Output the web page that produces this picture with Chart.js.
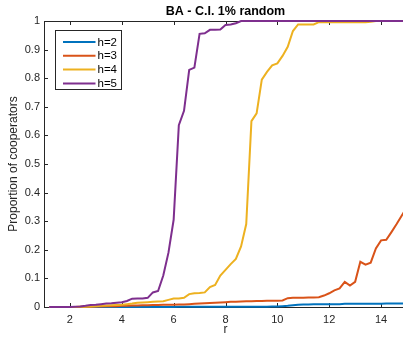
<!DOCTYPE html>
<html>
<head>
<meta charset="utf-8">
<script src="https://cdn.jsdelivr.net/npm/chart.js@4.4.1/dist/chart.umd.min.js"></script>
<style>
    html, body { margin: 0; padding: 0; background: #fff; overflow: hidden; }
    #contenedor { width: 410px; height: 342px; }
</style>
</head>
<body>
<div id="contenedor"><canvas id="grafica"></canvas></div>
<script>
// 🔹 Datos: proporción de cooperadores vs r
const titulo = 'BA - C.I. 1% random';
const etiquetas = ['h=2', 'h=3', 'h=4', 'h=5'];
const colores = ['#0072BD', '#D95319', '#EDB120', '#7E2F8E'];

const valoresR = [1.2, 1.4, 1.6, 1.8, 2.0, 2.2, 2.4, 2.6, 2.8, 3.0,
    3.2, 3.4, 3.6, 3.8, 4.0, 4.2, 4.4, 4.6, 4.8, 5.0,
    5.2, 5.4, 5.6, 5.8, 6.0, 6.2, 6.4, 6.6, 6.8, 7.0,
    7.2, 7.4, 7.6, 7.8, 8.0, 8.2, 8.4, 8.6, 8.8, 9.0,
    9.2, 9.4, 9.6, 9.8, 10.0, 10.2, 10.4, 10.6, 10.8, 11.0,
    11.2, 11.4, 11.6, 11.8, 12.0, 12.2, 12.4, 12.6, 12.8, 13.0,
    13.2, 13.4, 13.6, 13.8, 14.0, 14.2, 14.4, 14.6, 14.8, 15.0];

const h2 = [0, 0, 0, 0, 0, 0, 0, 0, 0, 0,
    0, 0, 0, 0, 0, 0, 0, 0, 0, 0,
    0, 0, 0, 0, 0, 0.001, 0.001, 0.001, 0.001, 0.001,
    0.001, 0.001, 0.001, 0.001, 0.001, 0.001, 0.001, 0.001, 0.001, 0.001,
    0.001, 0.001, 0.001, 0.002, 0.002, 0.003, 0.004, 0.006, 0.008, 0.009,
    0.009, 0.01, 0.01, 0.01, 0.01, 0.01, 0.01, 0.011, 0.011, 0.011,
    0.011, 0.011, 0.011, 0.011, 0.011, 0.012, 0.012, 0.012, 0.012, 0.012];

const h3 = [0, 0, 0, 0, 0, 0, 0.001, 0.001, 0.001, 0.002,
    0.002, 0.003, 0.003, 0.003, 0.004, 0.004, 0.005, 0.005, 0.006, 0.006,
    0.007, 0.007, 0.008, 0.008, 0.008, 0.009, 0.009, 0.01, 0.011, 0.012,
    0.013, 0.014, 0.015, 0.016, 0.017, 0.018, 0.018, 0.019, 0.02, 0.02,
    0.021, 0.021, 0.022, 0.022, 0.022, 0.023, 0.031, 0.032, 0.032, 0.032,
    0.033, 0.033, 0.034, 0.04, 0.048, 0.058, 0.065, 0.088, 0.075, 0.088,
    0.158, 0.148, 0.155, 0.205, 0.233, 0.235, 0.262, 0.29, 0.32, 0.35];

const h4 = [0, 0, 0, 0, 0, 0, 0.001, 0.001, 0.002, 0.003,
    0.004, 0.005, 0.006, 0.007, 0.008, 0.01, 0.012, 0.015, 0.016, 0.017,
    0.018, 0.019, 0.02, 0.025, 0.03, 0.03, 0.032, 0.045, 0.048, 0.049,
    0.051, 0.07, 0.077, 0.11, 0.13, 0.15, 0.168, 0.212, 0.29, 0.65,
    0.677, 0.795, 0.822, 0.845, 0.852, 0.878, 0.91, 0.965, 0.988, 0.988,
    0.988, 0.988, 0.996, 0.996, 0.996, 0.996, 0.996, 0.996, 0.996, 0.996,
    0.996, 0.996, 0.997, 1, 1, 1, 1, 1, 1, 1];

const h5 = [0, 0, 0, 0, 0, 0.001, 0.002, 0.004, 0.007, 0.008,
    0.01, 0.012, 0.013, 0.015, 0.017, 0.021, 0.029, 0.03, 0.03, 0.032,
    0.051, 0.056, 0.11, 0.19, 0.305, 0.636, 0.686, 0.829, 0.837, 0.955,
    0.957, 0.969, 0.969, 0.97, 0.986, 0.988, 0.992, 1, 1, 1,
    1, 1, 1, 1, 1, 1, 1, 1, 1, 1,
    1, 1, 1, 1, 1, 1, 1, 1, 1, 1,
    1, 1, 1, 1, 1, 1, 1, 1, 1, 1];

const series = [h2, h3, h4, h5];
const ticksX = [2, 4, 6, 8, 10, 12, 14];
const ticksY = [0, 0.1, 0.2, 0.3, 0.4, 0.5, 0.6, 0.7, 0.8, 0.9, 1];
const etiquetasY = ['0', '0.1', '0.2', '0.3', '0.4', '0.5', '0.6', '0.7', '0.8', '0.9', '1'];

const fuente = "'Liberation Sans', Arial, Helvetica, sans-serif";
const colorEje = '#262626';

// 🔸 Marco con ticks hacia adentro (estilo MATLAB)
const marco = {
    id: 'marco',
    beforeDatasetsDraw(chart) {
        const { ctx, chartArea: a, scales: { x, y } } = chart;
        ctx.save();
        ctx.strokeStyle = colorEje;
        ctx.lineWidth = 1;
        ctx.strokeRect(a.left + 0.5, a.top + 0.5, a.right - a.left, a.bottom - a.top);
        ctx.beginPath();
        x.ticks.forEach(t => {
            const px = Math.round(x.getPixelForValue(t.value)) + 0.5;
            ctx.moveTo(px, a.bottom);
            ctx.lineTo(px, a.bottom - 4);
            ctx.moveTo(px, a.top);
            ctx.lineTo(px, a.top + 4);
        });
        y.ticks.forEach(t => {
            const py = Math.round(y.getPixelForValue(t.value)) + 0.5;
            ctx.moveTo(a.left, py);
            ctx.lineTo(a.left + 4, py);
            ctx.moveTo(a.right, py);
            ctx.lineTo(a.right - 4, py);
        });
        ctx.stroke();
        ctx.restore();
    }
};

// 🔸 Leyenda dentro del área, arriba a la izquierda
const leyenda = {
    id: 'leyenda',
    afterDatasetsDraw(chart) {
        const { ctx, chartArea: a } = chart;
        const x0 = a.left + 11.5;
        const y0 = a.top + 9.5;
        ctx.save();
        ctx.fillStyle = '#fff';
        ctx.fillRect(x0, y0, 66, 59);
        ctx.strokeStyle = colorEje;
        ctx.lineWidth = 1;
        ctx.strokeRect(x0, y0, 66, 59);
        ctx.font = '11.5px ' + fuente;
        ctx.textBaseline = 'middle';
        ctx.textAlign = 'left';
        chart.data.datasets.forEach((ds, i) => {
            const yy = y0 + 11.5 + i * 13.8;
            ctx.strokeStyle = ds.borderColor;
            ctx.lineWidth = 2;
            ctx.beginPath();
            ctx.moveTo(x0 + 7.5, yy);
            ctx.lineTo(x0 + 40, yy);
            ctx.stroke();
            ctx.fillStyle = '#000';
            ctx.fillText(ds.label, x0 + 42, yy + 0.5);
        });
        ctx.restore();
    }
};

const ctx = document.getElementById('grafica').getContext('2d');

new Chart(ctx, {
    type: 'line',
    data: {
        datasets: series.map((vals, i) => ({
            label: etiquetas[i],
            data: vals.map((v, k) => ({ x: valoresR[k], y: v })),
            borderColor: colores[i],
            backgroundColor: colores[i],
            borderWidth: 2,
            pointRadius: 0,
            tension: 0,
            clip: 4,
            order: series.length - i
        }))
    },
    options: {
        animation: false,
        responsive: true,
        maintainAspectRatio: false,
        layout: { padding: { left: 0, right: 3, top: 0, bottom: 0 } },
        plugins: {
            legend: { display: false },
            tooltip: { enabled: false },
            title: {
                display: true,
                text: titulo,
                fullSize: false,
                color: '#000',
                font: { family: fuente, size: 12.5, weight: 'bold' },
                padding: { top: 4, bottom: 2 }
            }
        },
        scales: {
            x: {
                type: 'linear',
                min: 1,
                max: 15,
                grid: { display: false, drawTicks: false },
                border: { display: false },
                afterBuildTicks: s => { s.ticks = ticksX.map(v => ({ value: v })); },
                afterFit: s => { s.height = 35; },
                ticks: { color: colorEje, font: { family: fuente, size: 11 }, padding: 6, maxRotation: 0 },
                title: {
                    display: true,
                    text: 'r',
                    color: colorEje,
                    font: { family: fuente, size: 12 },
                    padding: { top: 0, bottom: 5 }
                }
            },
            y: {
                type: 'linear',
                min: 0,
                max: 1,
                grid: { display: false, drawTicks: false },
                border: { display: false },
                afterBuildTicks: s => { s.ticks = ticksY.map(v => ({ value: v })); },
                afterFit: s => { s.width = 44; },
                ticks: {
                    color: colorEje,
                    font: { family: fuente, size: 11 },
                    padding: 4,
                    callback: (v, i) => etiquetasY[i]
                },
                title: {
                    display: true,
                    text: 'Proportion of cooperators',
                    color: colorEje,
                    font: { family: fuente, size: 12 },
                    padding: { top: 6, bottom: 0 }
                }
            }
        }
    },
    plugins: [marco, leyenda]
});
</script>
</body>
</html>
